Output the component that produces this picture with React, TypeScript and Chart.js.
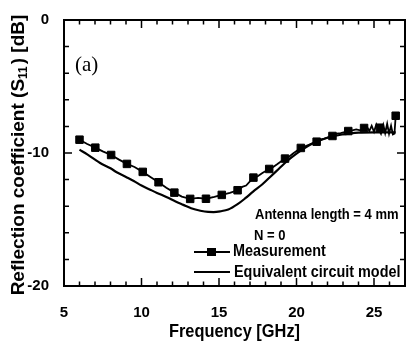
import { useEffect, useRef } from "react";
import { Chart, registerables } from "chart.js";

Chart.register(...registerables);

// ---- data ----
const xTickValues = [5, 10, 15, 20, 25];
const yTickValues = [0, -10, -20];

const measFreq = [
  6.0, 6.5, 7.02, 7.5, 8.04, 8.55, 9.06, 9.55, 10.08, 10.6, 11.1, 11.6, 12.12, 12.6,
  13.14, 13.65, 14.16, 14.7, 15.18, 15.7, 16.2, 16.5, 16.75, 17.22, 17.5, 17.8, 18.24,
  18.5, 18.75, 19.26, 19.5, 19.8, 20.28, 20.55, 20.8, 21.3, 21.55, 21.8, 22.32, 22.6,
  22.85, 23.34, 23.6, 23.85, 24.1, 24.36, 24.55, 24.7, 24.85, 25.0, 25.15, 25.3, 25.45,
  25.6, 25.72, 25.85, 25.97, 26.1, 26.22, 26.32, 26.4,
];
const measDb = [
  -9.0, -9.32, -9.6, -9.88, -10.15, -10.5, -10.82, -11.05, -11.42, -11.82, -12.2, -12.62,
  -12.98, -13.28, -13.45, -13.38, -13.44, -13.3, -13.15, -13.0, -12.8, -12.55, -12.45,
  -11.85, -11.75, -11.5, -11.2, -11.05, -10.85, -10.42, -10.3, -10.02, -9.62, -9.5, -9.38,
  -9.15, -9.0, -8.92, -8.72, -8.55, -8.5, -8.35, -8.3, -8.22, -8.3, -8.12, -8.05, -8.35,
  -7.95, -8.4, -7.85, -8.2, -8.55, -7.9, -8.5, -7.8, -8.55, -7.95, -8.6, -8.55, -7.2,
];

const markerFreq = [
  6.0, 7.02, 8.04, 9.06, 10.08, 11.1, 12.12, 13.14, 14.16, 15.18, 16.2, 17.22, 18.24,
  19.26, 20.28, 21.3, 22.32, 23.34, 24.36, 25.38, 26.4,
];
const markerDb = [
  -9.0, -9.6, -10.15, -10.82, -11.42, -12.2, -12.98, -13.45, -13.44, -13.15, -12.8, -11.85,
  -11.2, -10.42, -9.62, -9.15, -8.72, -8.35, -8.12, -8.1, -7.2,
];

const modelFreq = [
  6.0, 6.5, 7.0, 7.33, 8.0, 8.4, 9.0, 9.5, 10.0, 10.56, 11.0, 11.64, 12.2, 12.7, 13.2,
  13.8, 14.3, 14.65, 15.1, 15.6, 16.2, 16.7, 17.2, 17.8, 18.3, 18.85, 19.4, 20.0, 20.5,
  21.0, 21.5, 22.0, 22.5, 23.0, 23.5, 24.0, 25.0, 26.4,
];
const modelDb = [
  -9.75, -10.1, -10.5, -10.75, -11.15, -11.45, -11.8, -12.1, -12.45, -12.76, -13.0, -13.33,
  -13.65, -13.9, -14.15, -14.34, -14.43, -14.44, -14.38, -14.25, -13.85, -13.4, -12.9,
  -12.35, -11.8, -11.2, -10.6, -10.05, -9.65, -9.3, -9.05, -8.85, -8.7, -8.6, -8.52, -8.47,
  -8.45, -8.45,
];

const seriesNames = ["Measurement", "Equivalent circuit model"];
const annotationLines = ["Antenna length = 4 mm", "N = 0"];
const panelLabel = "(a)";
const xTitle = "Frequency [GHz]";
const yTitleParts = ["Reflection coefficient (S", "11", ") [dB]"];

const SANS = '"Liberation Sans", Arial, sans-serif';

function scaledText(ctx: any, text: string, x: number, y: number, sx: number) {
  ctx.save();
  ctx.translate(x, y);
  ctx.scale(sx, 1);
  ctx.fillText(text, 0, 0);
  ctx.restore();
}

const framePlugin = {
  id: "frameAndText",
  afterDraw(chart: any) {
    const { ctx, chartArea: a, scales } = chart;
    const x = scales.x;
    const y = scales.y;
    ctx.save();
    ctx.strokeStyle = "#000";
    ctx.fillStyle = "#000";

    // frame
    ctx.lineWidth = 2;
    ctx.strokeRect(a.left, a.top, a.right - a.left, a.bottom - a.top);

    // inward ticks
    ctx.lineWidth = 1.5;
    ctx.beginPath();
    for (let v = 5; v <= 27; v += 1) {
      const px = x.getPixelForValue(v);
      const len = v % 5 === 0 ? 8 : 4.5;
      ctx.moveTo(px, a.bottom);
      ctx.lineTo(px, a.bottom - len);
      ctx.moveTo(px, a.top);
      ctx.lineTo(px, a.top + len);
    }
    for (let v = 0; v >= -20; v -= 2) {
      const py = y.getPixelForValue(v);
      const len = v % 10 === 0 ? 8 : 5;
      ctx.moveTo(a.left, py);
      ctx.lineTo(a.left + len, py);
      ctx.moveTo(a.right, py);
      ctx.lineTo(a.right - len, py);
    }
    ctx.stroke();

    // panel label
    ctx.font = '21px "Liberation Serif", "Times New Roman", serif';
    ctx.textAlign = "left";
    ctx.textBaseline = "middle";
    ctx.fillText(panelLabel, a.left + 11, 65);

    // annotation
    ctx.font = `bold 14px ${SANS}`;
    scaledText(ctx, annotationLines[0], 255, 215, 0.93);
    scaledText(ctx, annotationLines[1], 254, 236, 0.93);

    // legend
    ctx.lineWidth = 2;
    ctx.beginPath();
    ctx.moveTo(194, 252);
    ctx.lineTo(230, 252);
    ctx.stroke();
    ctx.fillRect(207, 248, 9, 8);
    ctx.lineWidth = 2.2;
    ctx.beginPath();
    ctx.moveTo(194, 272);
    ctx.lineTo(230, 272);
    ctx.stroke();
    ctx.font = `bold 16px ${SANS}`;
    scaledText(ctx, seriesNames[0], 233, 252, 0.9);
    scaledText(ctx, seriesNames[1], 234, 273, 0.9);

    // x title
    ctx.font = `bold 18px ${SANS}`;
    ctx.textAlign = "center";
    scaledText(ctx, xTitle, (a.left + a.right) / 2, 332, 0.91);

    // y title with subscript
    ctx.translate(19, (a.top + a.bottom) / 2 + 2);
    ctx.rotate(-Math.PI / 2);
    const mainFont = `bold 19px ${SANS}`;
    const subFont = `bold 12px ${SANS}`;
    ctx.font = mainFont;
    const w1 = ctx.measureText(yTitleParts[0]).width;
    const w3 = ctx.measureText(yTitleParts[2]).width;
    ctx.font = subFont;
    const w2 = ctx.measureText(yTitleParts[1]).width + 2;
    let cx = -(w1 + w2 + w3) / 2;
    ctx.textAlign = "left";
    ctx.font = mainFont;
    ctx.fillText(yTitleParts[0], cx, 0);
    cx += w1;
    ctx.font = subFont;
    ctx.fillText(yTitleParts[1], cx, 5);
    cx += w2;
    ctx.font = mainFont;
    ctx.fillText(yTitleParts[2], cx, 0);

    ctx.restore();
  },
};

export default function App() {
  const ref = useRef<HTMLCanvasElement | null>(null);

  useEffect(() => {
    if (!ref.current) return;
    const measData = measFreq.map((f, i) => ({ x: f, y: measDb[i] }));
    const markerData = markerFreq.map((f, i) => ({ x: f, y: markerDb[i] }));
    const modelData = modelFreq.map((f, i) => ({ x: f, y: modelDb[i] }));

    const chart = new Chart(ref.current, {
      type: "line",
      data: {
        datasets: [
          {
            label: seriesNames[0],
            data: measData,
            borderColor: "#000",
            borderWidth: 1.8,
            pointRadius: 0,
            tension: 0,
          },
          {
            label: seriesNames[0] + " markers",
            data: markerData,
            showLine: false,
            pointStyle: "rect",
            pointRadius: 5.3,
            pointBackgroundColor: "#000",
            pointBorderColor: "#000",
            pointBorderWidth: 1,
          },
          {
            label: seriesNames[1],
            data: modelData,
            borderColor: "#000",
            borderWidth: 2.2,
            pointRadius: 0,
            cubicInterpolationMode: "monotone",
          },
        ],
      },
      options: {
        responsive: false,
        animation: false,
        devicePixelRatio: 1,
        layout: { autoPadding: false, padding: { top: 20, right: 1, left: 0, bottom: 0 } },
        plugins: {
          legend: { display: false },
          tooltip: { enabled: false },
        },
        scales: {
          x: {
            type: "linear",
            min: 5,
            max: 27,
            grid: { display: false },
            border: { display: false },
            afterBuildTicks: (s: any) => {
              s.ticks = xTickValues.map((v) => ({ value: v }));
            },
            afterFit: (s: any) => {
              s.height = 58;
              s.paddingLeft = 0;
              s.paddingRight = 0;
            },
            ticks: {
              color: "#000",
              padding: 10,
              maxRotation: 0,
              font: { family: SANS, size: 15, weight: "bold" },
            },
          },
          y: {
            type: "linear",
            min: -20,
            max: 0,
            grid: { display: false },
            border: { display: false },
            afterBuildTicks: (s: any) => {
              s.ticks = yTickValues.map((v) => ({ value: v }));
            },
            afterFit: (s: any) => {
              s.width = 64;
            },
            ticks: {
              color: "#000",
              padding: 7,
              font: { family: SANS, size: 15, weight: "bold" },
            },
          },
        },
      },
      plugins: [framePlugin],
    } as any);
    return () => chart.destroy();
  }, []);

  return (
    <div
      style={{
        position: "fixed",
        left: 0,
        top: 0,
        width: 406,
        height: 344,
        background: "#fff",
      }}
    >
      <canvas ref={ref} width={406} height={344} style={{ display: "block" }} />
    </div>
  );
}
